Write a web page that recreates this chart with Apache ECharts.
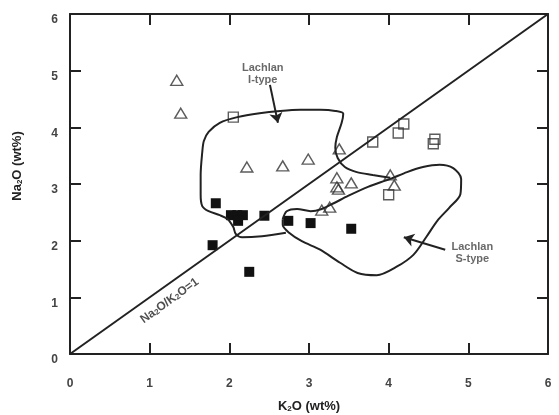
<!DOCTYPE html>
<html>
<head>
<meta charset="utf-8">
<script src="https://cdn.jsdelivr.net/npm/echarts@6/dist/echarts.min.js"></script>
<style>
  html, body { margin: 0; padding: 0; background: #fff; }
  #chart { width: 559px; height: 415px; }
</style>
</head>
<body>
<div id="chart"></div>
<script>
// Na2O vs K2O (wt%) discrimination plot
const FONT = '"Liberation Sans", Arial, sans-serif';
const INK = '#222';

// axis range
const axisMin = 0;
const axisMax = 6;
const axisStep = 1;

// open triangles
const triK2O = [1.34, 1.39, 2.22, 2.67, 2.99, 3.38, 3.35, 3.35, 3.37, 3.53, 4.02, 4.07, 3.16, 3.26];
const triNa2O = [4.83, 4.25, 3.30, 3.32, 3.44, 3.62, 3.11, 2.95, 2.91, 3.02, 3.16, 2.98, 2.54, 2.59];

// open squares
const openSqK2O = [2.05, 3.80, 4.12, 4.19, 4.56, 4.58, 4.00];
const openSqNa2O = [4.18, 3.74, 3.90, 4.06, 3.71, 3.79, 2.81];

// filled squares
const fillSqK2O = [1.83, 2.02, 2.10, 2.17, 2.11, 2.44, 1.79, 2.25, 2.74, 3.02, 3.53];
const fillSqNa2O = [2.66, 2.45, 2.45, 2.45, 2.35, 2.44, 1.92, 1.45, 2.35, 2.31, 2.21];

// Lachlan I-type field outline (closes against the S-type field)
const iTypeK2O = [2.71, 2.41, 2.16, 2.08, 2.05, 1.98, 1.88, 1.74, 1.66, 1.64, 1.64, 1.66, 1.68, 1.74, 1.88, 2.10, 2.38, 2.64, 2.89, 3.14, 3.33, 3.43, 3.41, 3.35, 3.33, 3.36, 3.45, 3.60, 3.80, 4.02];
const iTypeNa2O = [2.14, 2.08, 2.06, 2.12, 2.24, 2.38, 2.45, 2.52, 2.61, 2.81, 3.16, 3.56, 3.76, 3.92, 4.08, 4.18, 4.25, 4.29, 4.31, 4.31, 4.29, 4.24, 4.08, 3.83, 3.64, 3.46, 3.30, 3.21, 3.16, 3.11];

// Lachlan S-type field outline (closed)
const sTypeK2O = [2.67, 2.72, 2.85, 3.02, 3.16, 3.31, 3.49, 3.74, 4.02, 4.23, 4.43, 4.64, 4.81, 4.91, 4.90, 4.76, 4.61, 4.47, 4.31, 4.10, 3.85, 3.61, 3.39, 3.14, 2.91, 2.75, 2.67, 2.67];
const sTypeNa2O = [2.38, 2.52, 2.56, 2.52, 2.56, 2.66, 2.79, 2.95, 3.09, 3.21, 3.30, 3.34, 3.28, 3.09, 2.82, 2.58, 2.35, 2.06, 1.75, 1.54, 1.39, 1.43, 1.61, 1.84, 1.99, 2.14, 2.28, 2.38];

// Na2O/K2O = 1 reference line
const ratioLineK2O = [0, 6];
const ratioLineNa2O = [0, 6];

// annotations
const fieldNames = ['Lachlan\nI-type', 'Lachlan\nS-type'];
const fieldNameK2O = [2.42, 5.05];
const fieldNameNa2O = [4.95, 1.79];
const arrowFromK2O = [2.51, 4.71];
const arrowFromNa2O = [4.75, 1.84];
const arrowToK2O = [2.61, 4.19];
const arrowToNa2O = [4.08, 2.06];
const ratioLabelK2O = 1.25;
const ratioLabelNa2O = 0.94;

const zip = (xs, ys) => xs.map((x, i) => [x, ys[i]]);

const chart = echarts.init(document.getElementById('chart'), null, { renderer: 'canvas' });

const subRich = (size) => ({
  a: { fontFamily: FONT, fontWeight: 'bold', fontSize: size, color: INK },
  s: { fontFamily: FONT, fontWeight: 'bold', fontSize: Math.round(size * 0.65), color: INK, padding: [Math.round(size * 0.35), 0, 0, 0] },
});

const baseAxis = {
  type: 'value',
  min: axisMin,
  max: axisMax,
  interval: axisStep,
  axisLine: { show: true, onZero: false, lineStyle: { color: INK, width: 2 } },
  axisTick: { show: true, inside: true, length: 11, lineStyle: { color: INK, width: 2 } },
  splitLine: { show: false },
};

const labelStyle = { fontFamily: FONT, fontWeight: 'bold', fontSize: 12, color: '#444' };

const option = {
  animation: false,
  backgroundColor: '#fff',
  grid: { left: 70, right: 11, top: 14, bottom: 61, containLabel: false, outerBoundsMode: 'none' },
  xAxis: [
    {
      ...baseAxis,
      position: 'bottom',
      axisLabel: { ...labelStyle, margin: 24 },
      name: '{a|K}{s|2}{a|O (wt%)}',
      nameLocation: 'middle',
      nameGap: 46,
      nameTextStyle: { rich: subRich(13) },
    },
    {
      ...baseAxis,
      position: 'top',
      axisLabel: { show: false },
    },
  ],
  yAxis: [
    {
      ...baseAxis,
      position: 'left',
      axisLabel: { ...labelStyle, margin: 12, verticalAlign: 'top' },
      name: '{a|Na}{s|2}{a|O (wt%)}',
      nameLocation: 'middle',
      nameGap: 46,
      nameTextStyle: { rich: subRich(13), padding: [0, 0, 0, 36] },
    },
    {
      ...baseAxis,
      position: 'right',
      axisLabel: { show: false },
    },
  ],
  series: [
    {
      name: 'ratio',
      type: 'line',
      data: zip(ratioLineK2O, ratioLineNa2O),
      symbol: 'none',
      silent: true,
      lineStyle: { color: INK, width: 2 },
    },
    {
      name: 'I-type',
      type: 'line',
      data: zip(iTypeK2O, iTypeNa2O),
      smooth: 0.3,
      symbol: 'none',
      silent: true,
      lineStyle: { color: INK, width: 2 },
      markLine: {
        silent: true,
        symbol: ['none', 'arrow'],
        symbolSize: 10,
        label: { show: false },
        lineStyle: { color: INK, width: 2, type: 'solid' },
        data: [[{ coord: [arrowFromK2O[0], arrowFromNa2O[0]] }, { coord: [arrowToK2O[0], arrowToNa2O[0]] }]],
      },
    },
    {
      name: 'S-type',
      type: 'line',
      data: zip(sTypeK2O, sTypeNa2O),
      smooth: 0.3,
      symbol: 'none',
      silent: true,
      lineStyle: { color: INK, width: 2 },
      markLine: {
        silent: true,
        symbol: ['none', 'arrow'],
        symbolSize: 10,
        label: { show: false },
        lineStyle: { color: INK, width: 2, type: 'solid' },
        data: [[{ coord: [arrowFromK2O[1], arrowFromNa2O[1]] }, { coord: [arrowToK2O[1], arrowToNa2O[1]] }]],
      },
    },
    {
      name: 'open triangle',
      type: 'scatter',
      data: zip(triK2O, triNa2O),
      symbol: 'triangle',
      symbolSize: [12, 10],
      itemStyle: { color: 'rgba(255,255,255,0)', borderColor: '#333', borderWidth: 1.4 },
    },
    {
      name: 'open square',
      type: 'scatter',
      data: zip(openSqK2O, openSqNa2O),
      symbol: 'rect',
      symbolSize: 10,
      itemStyle: { color: 'rgba(255,255,255,0)', borderColor: '#333', borderWidth: 1.4 },
    },
    {
      name: 'filled square',
      type: 'scatter',
      data: zip(fillSqK2O, fillSqNa2O),
      symbol: 'rect',
      symbolSize: 10,
      itemStyle: { color: '#111', opacity: 1 },
    },
    {
      name: 'labels',
      type: 'scatter',
      symbolSize: 0,
      silent: true,
      data: fieldNames.map((t, i) => ({
        value: [fieldNameK2O[i], fieldNameNa2O[i]],
        label: {
          show: true,
          position: 'inside',
          formatter: t,
          fontFamily: FONT,
          fontWeight: 'bold',
          fontSize: 11,
          lineHeight: 12,
          color: '#444',
          align: 'center',
        },
      })).concat([{
        value: [ratioLabelK2O, ratioLabelNa2O],
        label: {
          show: true,
          position: 'inside',
          rotate: 36,
          formatter: '{a|Na}{s|2}{a|O/K}{s|2}{a|O=1}',
          rich: subRich(12),
        },
      }]),
    },
  ],
};

chart.setOption(option);
</script>
</body>
</html>
